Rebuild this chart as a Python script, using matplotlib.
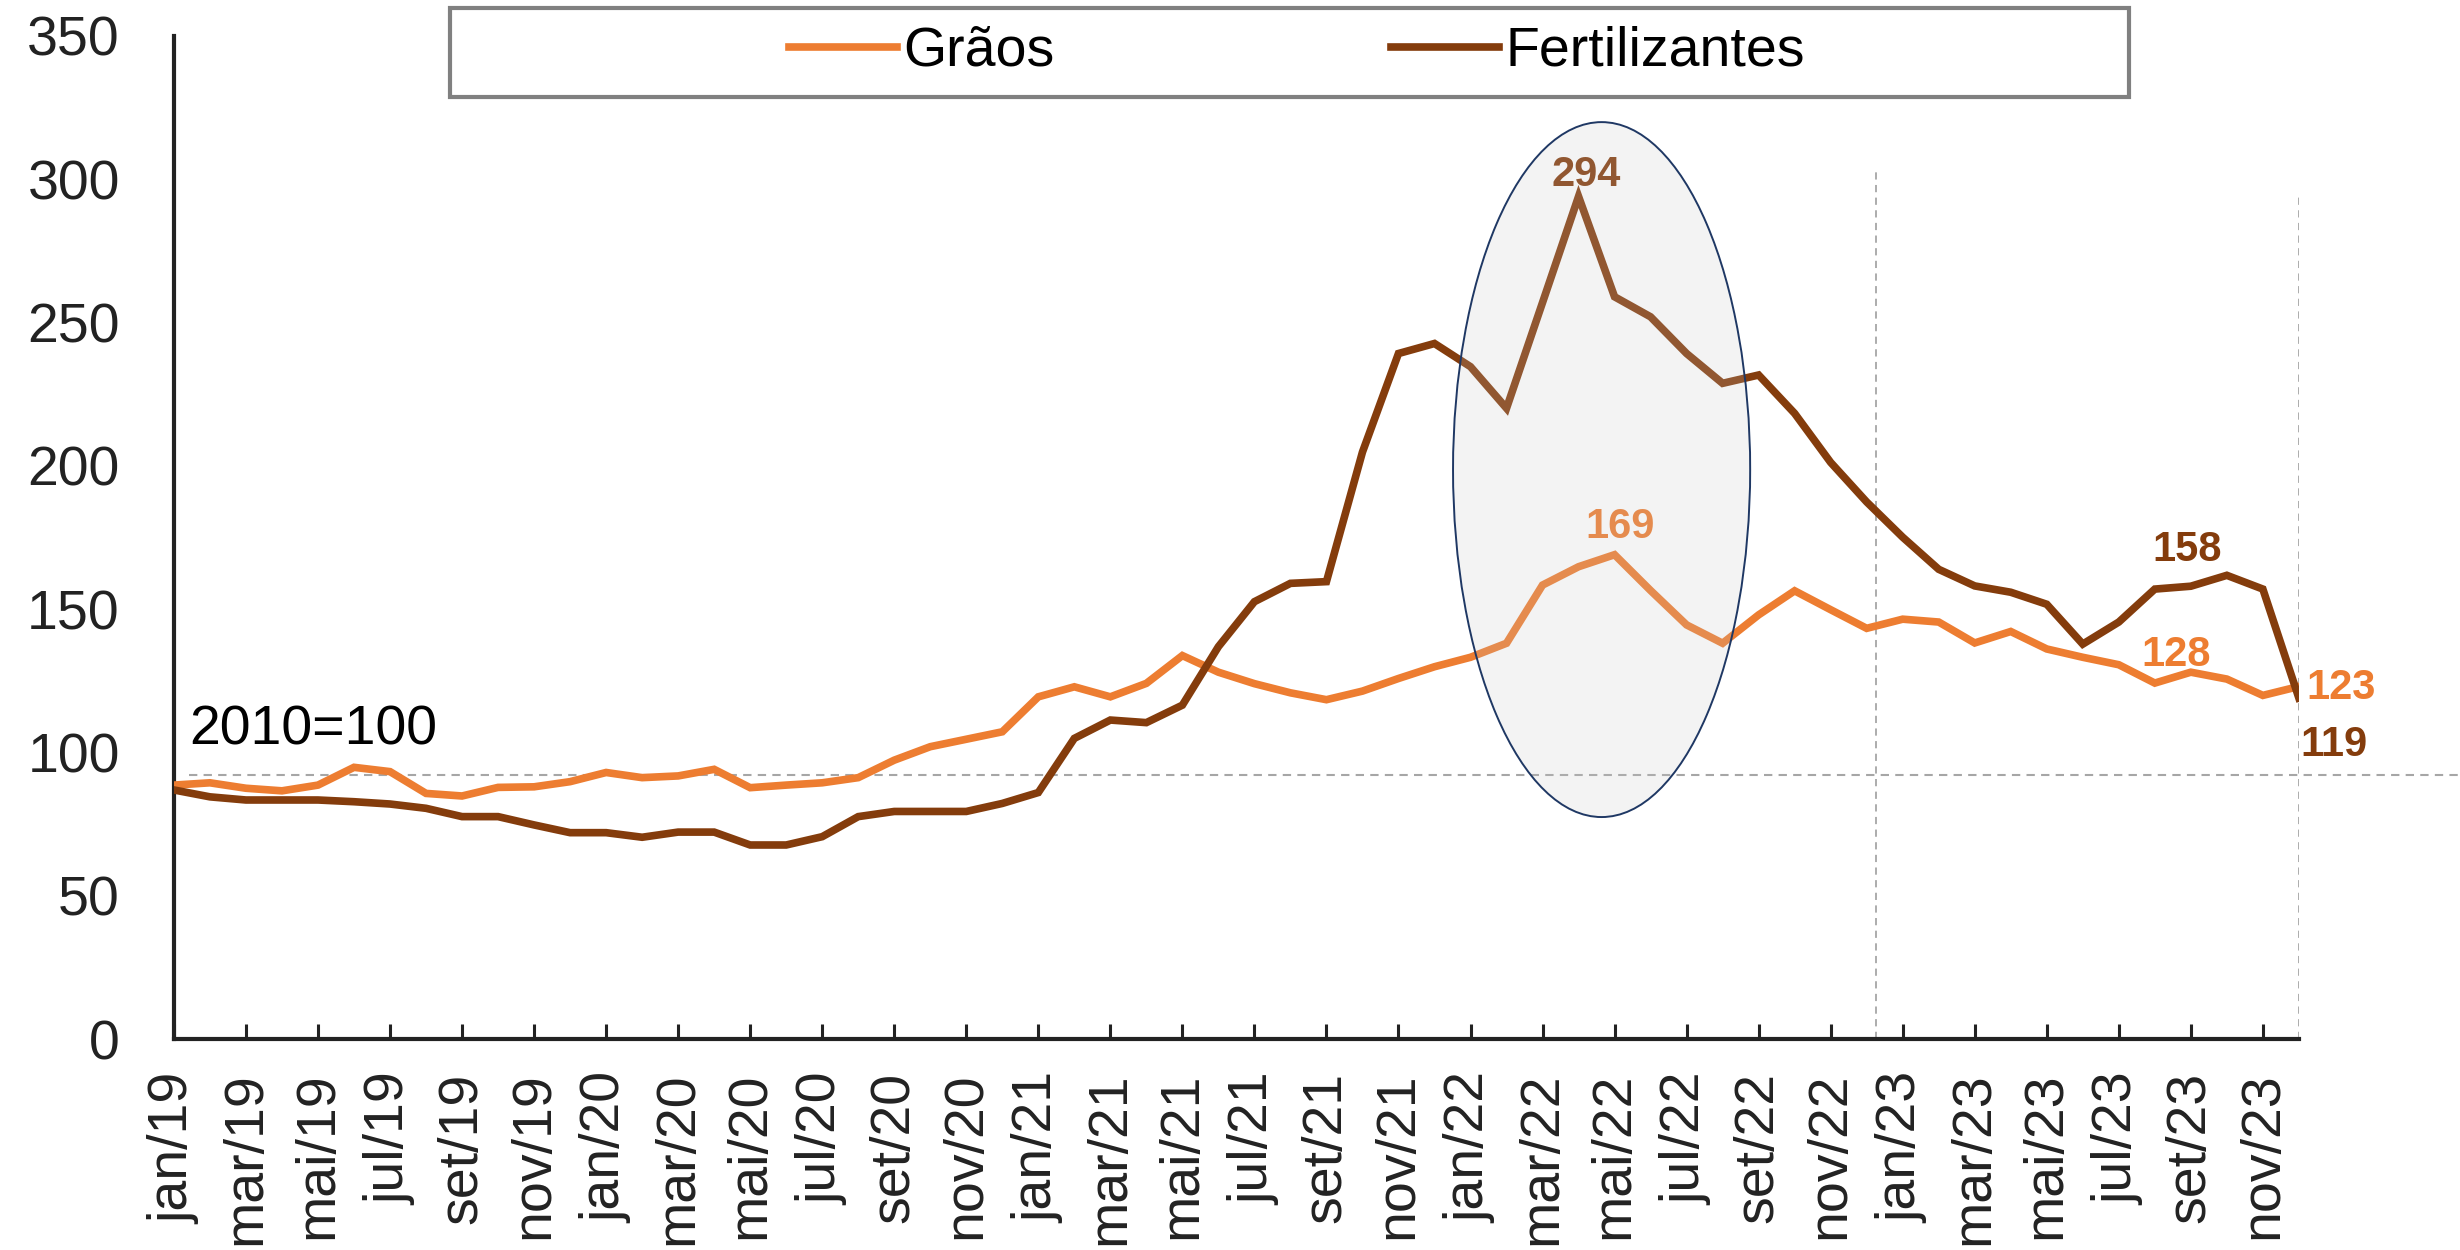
import matplotlib
matplotlib.use("Agg")
import matplotlib.pyplot as plt
from matplotlib.patches import Ellipse, Rectangle
from matplotlib.lines import Line2D

plt.rcParams['font.family'] = ['Liberation Sans', 'DejaVu Sans']

# meses jan/19 .. dez/23
mes_nomes = ['jan', 'fev', 'mar', 'abr', 'mai', 'jun', 'jul', 'ago', 'set', 'out', 'nov', 'dez']
anos = ['19', '20', '21', '22', '23']
meses = [m + '/' + a for a in anos for m in mes_nomes]

graos = [88.6, 89.4, 87.5, 86.6, 88.6, 94.8, 93.3, 85.7, 84.8, 87.8, 88.0, 89.8,
         93.0, 91.2, 91.8, 94.1, 87.7, 88.6, 89.4, 91.2, 97.3, 102.0, 104.6, 107.2,
         119.4, 122.9, 119.4, 124.1, 133.8, 128.0, 124.0, 120.8, 118.4, 121.4, 125.8, 129.9,
         133.2, 138.1, 158.4, 164.8, 169.0, 156.5, 144.5, 138.1, 148.0, 156.4, 149.8, 143.3,
         146.5, 145.5, 138.2, 142.2, 136.1, 133.2, 130.6, 124.2, 128.0, 125.6, 119.9, 123.0]

fertilizantes = [86.9, 84.5, 83.4, 83.4, 83.4, 82.8, 82.0, 80.5, 77.6, 77.6, 74.7, 72.0,
                 72.0, 70.4, 72.2, 72.2, 67.7, 67.7, 70.6, 77.6, 79.4, 79.4, 79.4, 82.2,
                 86.0, 104.9, 111.3, 110.4, 116.5, 136.9, 152.6, 159.0, 159.6, 204.8, 239.2, 242.7,
                 234.6, 220.1, 257.0, 294.0, 259.0, 252.0, 239.2, 228.8, 231.7, 218.3, 201.2, 187.4,
                 175.1, 163.9, 158.1, 155.9, 151.7, 137.8, 145.5, 157.0, 158.0, 161.8, 157.0, 119.0]

base_ref = 92   # linha tracejada horizontal (2010=100)
c_graos = '#ED7D31'
c_fert = '#843C0C'

x = list(range(len(meses)))

fig = plt.figure(figsize=(24.6, 12.5), dpi=100)
ax = fig.add_axes([0.0707, 0.1688, 0.8638, 0.8024])

ax.plot(x, graos, color=c_graos, lw=5.5, zorder=3, solid_joinstyle='miter')
ax.plot(x, fertilizantes, color=c_fert, lw=5.5, zorder=3, solid_joinstyle='miter')

# linhas de referencia
ax.axhline(base_ref, xmin=0.007, xmax=1.076, color='#a6a6a6', lw=1.5,
           ls=(0, (4, 3)), clip_on=False, zorder=2)
ax.axvline(47.27, ymax=304 / 350, color='#a6a6a6', lw=1.3, ls=(0, (4, 3)), zorder=2)
ax.axvline(59, ymax=294 / 350, color='#a6a6a6', lw=1.3, ls=(0, (4, 3)), zorder=2)

# rotulos dos dados
ax.text(39.2, 301.5, f"{fertilizantes[39]:.0f}", ha='center', va='center', fontsize=30,
        fontweight='bold', color=c_fert, zorder=4)
ax.text(40.16, 178.7, f"{graos[40]:.0f}", ha='center', va='center', fontsize=30,
        fontweight='bold', color=c_graos, zorder=4)
ax.text(55.9, 170.8, f"{fertilizantes[56]:.0f}", ha='center', va='center', fontsize=30,
        fontweight='bold', color=c_fert, zorder=4)
ax.text(55.6, 134, f"{graos[56]:.0f}", ha='center', va='center', fontsize=30,
        fontweight='bold', color=c_graos, zorder=4)
ax.text(59.2, 122.5, f"{graos[59]:.0f}", ha='left', va='center', fontsize=30,
        fontweight='bold', color=c_graos, zorder=4, clip_on=False)
ax.text(59.03, 102.6, f"{fertilizantes[59]:.0f}", ha='left', va='center', fontsize=30,
        fontweight='bold', color=c_fert, zorder=4, clip_on=False)

ax.text(0.42, 107.8, '2010=100', ha='left', va='center', fontsize=40, color='black')

# elipse de destaque
ell = Ellipse((39.64, 198.7), 8.25, 242.5, facecolor=(0.776, 0.776, 0.776, 0.2),
              edgecolor='#1F3864', lw=1.4, zorder=5)
ax.add_patch(ell)

ax.set_xlim(0, 59)
ax.set_ylim(0, 350)
ax.set_yticks(range(0, 351, 50))
ax.set_xticks(x[::2])
ax.set_xticklabels(meses[::2], rotation=90)

for s in ['top', 'right']:
    ax.spines[s].set_visible(False)
for s in ['left', 'bottom']:
    ax.spines[s].set_linewidth(3)
    ax.spines[s].set_color('#222222')

ax.tick_params(axis='x', direction='in', length=11, width=2.2, pad=24,
               labelsize=40, colors='#222222')
ax.tick_params(axis='y', length=0, pad=39, labelsize=40, colors='#222222')

# legenda
handles = [Line2D([], [], color=c_graos, lw=5.5), Line2D([], [], color=c_fert, lw=5.5)]
fig.legend(handles, ['Grãos', 'Fertilizantes'], loc='center',
           bbox_to_anchor=(1297 / 2460, 1 - 52 / 1250), ncol=2, frameon=False,
           fontsize=40, handlelength=1.95, handletextpad=0.12, columnspacing=6.05)
fig.add_artist(Rectangle((450 / 2460, 1 - 97 / 1250), 1679 / 2460, 89 / 1250,
                         transform=fig.transFigure, fill=False,
                         edgecolor='#808080', lw=3))

fig.savefig('out.png', dpi=100)
